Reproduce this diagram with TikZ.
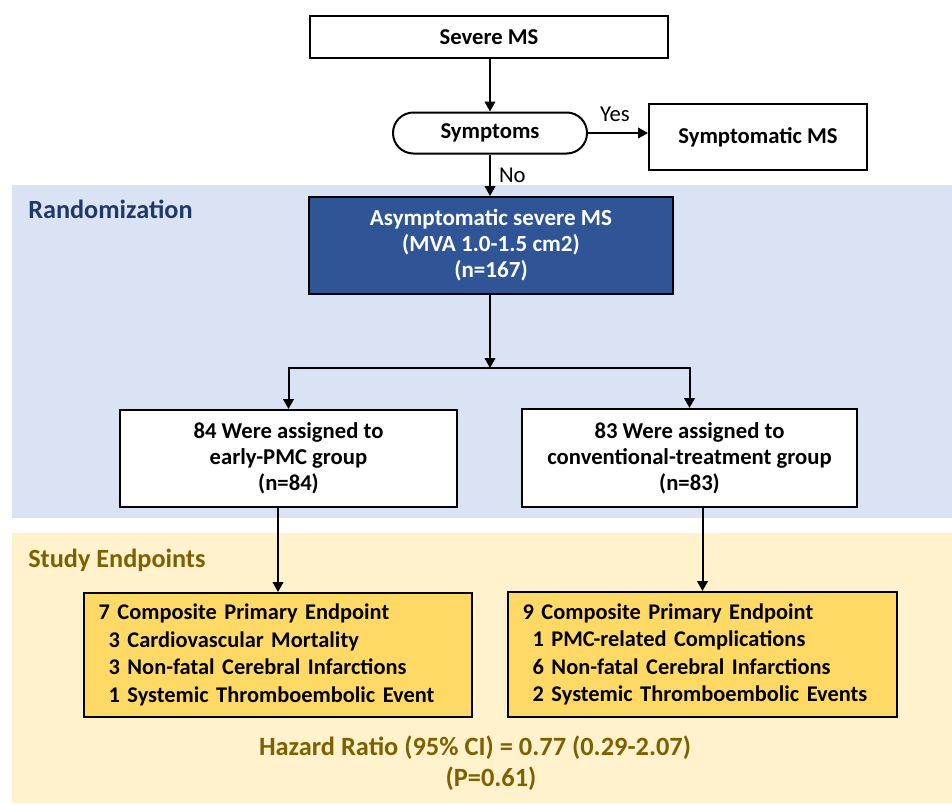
\documentclass[tikz,border=0pt]{standalone}
\usepackage{fontspec}
\setmainfont{Carlito}
\usetikzlibrary{arrows.meta,calc}
\definecolor{bandblue}{HTML}{DAE3F3}
\definecolor{bandyellow}{HTML}{FFF2CC}
\definecolor{boxblue}{HTML}{2F5597}
\definecolor{boxyellow}{HTML}{FFD966}
\definecolor{navytext}{HTML}{1F3864}
\definecolor{olivetext}{HTML}{7F6000}
\tikzset{
  whitebox/.style={draw=black, line width=1.5pt, fill=white, font=\fontsize{17}{19.5}\selectfont\bfseries, align=center, inner sep=0pt},
  bluebox/.style={draw=black, line width=1.5pt, fill=boxblue, text=white, font=\fontsize{17.3}{19.5}\selectfont\bfseries, align=center, inner sep=0pt},
  yellowbox/.style={draw=black, line width=1.5pt, fill=boxyellow, font=\fontsize{16.8}{20.6}\selectfont\bfseries, align=left, inner xsep=11pt, inner ysep=0pt},
  stadium/.style={draw=black, line width=1.5pt, fill=white, rounded corners=15.3pt, font=\fontsize{17}{20}\selectfont\bfseries, inner sep=0pt},
  arr/.style={line width=1.5pt, -{Triangle[length=7.5pt,width=8pt]}},
  lbl/.style={font=\fontsize{17}{20}\selectfont, inner sep=0pt},
  bandtitle/.style={font=\fontsize{19.7}{23}\selectfont\bfseries, anchor=west, inner sep=0pt},
  hrtext/.style={font=\fontsize{19.8}{23}\selectfont\bfseries, text=olivetext, inner sep=0pt}
}
\begin{document}
\begin{tikzpicture}[x=0.75pt,y=-0.75pt]
\useasboundingbox (0,0) rectangle (952,803);
% bands
\fill[bandblue] (12,185) rectangle (952,518);
\fill[bandyellow] (12,533) rectangle (952,803);
\node[bandtitle, text=navytext] (randt) at (28,209) {Randomization};
\node[bandtitle, text=olivetext] (studyt) at (28,560) {Study Endpoints};

% nodes
\node[whitebox, minimum width=358*0.75pt, minimum height=42*0.75pt] (severe) at (489,37) {Severe MS};
\node[stadium, minimum width=194*0.75pt, minimum height=41*0.75pt] (sym) at (490,133) {Symptoms};
\node[whitebox, minimum width=218*0.75pt, minimum height=66*0.75pt] (symms) at (758,137) {Symptomatic MS};
\node[bluebox, minimum width=364*0.75pt, minimum height=97*0.75pt] (asym) at (491,245.5) {Asymptomatic severe MS\\(MVA 1.0-1.5 cm2)\\(n=167)};
\coordinate (split) at (490,368);
\node[whitebox, minimum width=337*0.75pt, minimum height=97*0.75pt] (early) at (288.5,458.5) {84 Were assigned to\\early-PMC group\\(n=84)};
\node[whitebox, minimum width=335*0.75pt, minimum height=98*0.75pt] (conv) at (689.5,458) {83 Were assigned to\\conventional-treatment group\\(n=83)};
\node[yellowbox, text width=388*0.75pt-22pt, minimum height=124*0.75pt] (yl) at (278,655) {7 Composite Primary Endpoint\\\hspace*{7.5pt}3 Cardiovascular Mortality\\\hspace*{7.5pt}3 Non-fatal Cerebral Infarctions\\\hspace*{7.5pt}1 Systemic Thromboembolic Event};
\node[yellowbox, text width=389*0.75pt-22pt, minimum height=125*0.75pt] (yr) at (702.5,654.5) {9 Composite Primary Endpoint\\\hspace*{7.5pt}1 PMC-related Complications\\\hspace*{7.5pt}6 Non-fatal Cerebral Infarctions\\\hspace*{7.5pt}2 Systemic Thromboembolic Events};
\node[hrtext] (hr) at (475,748) {Hazard Ratio (95\% CI) = 0.77 (0.29-2.07)};
\node[hrtext] (pval) at (491,779) {(P=0.61)};

% connectors
\draw[arr] (severe.south -| sym.north) -- (sym.north);
\draw[arr] (sym.east) -- node[lbl, above=8pt, pos=0.45] (yes) {Yes} (sym.east -| symms.west);
\draw[arr] (sym.south) -- node[lbl, right=6pt, pos=0.5] (no) {No} (sym.south |- asym.north);
\draw[arr] (sym.south |- asym.south) -- (split);
\draw[arr] (split) -| (early.north);
\draw[arr] (split) -| (conv.north);
\draw[arr] (yl.north |- early.south) -- (yl.north);
\draw[arr] (yr.north |- conv.south) -- (yr.north);
\end{tikzpicture}
\end{document}
